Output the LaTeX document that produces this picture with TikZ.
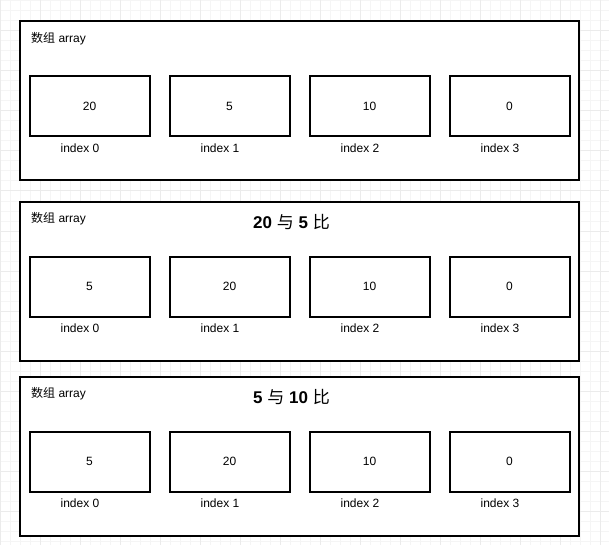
\documentclass[tikz,border=0pt]{standalone}
\usepackage{fontspec}
\setmainfont{Liberation Sans}
\newfontfamily\cjk{Noto Sans CJK SC}
\usetikzlibrary{positioning}

\begin{document}
\begin{tikzpicture}[x=1pt,y=-1pt,
          panel/.style={draw,line width=2pt,fill=white,inner sep=0pt,outer sep=0pt,minimum width=559pt,minimum height=159pt},
          cell/.style={draw,line width=2pt,fill=white,inner sep=0pt,outer sep=0pt,minimum width=120pt,minimum height=60pt,font=\fontsize{12}{14}\selectfont},
          idx/.style={font=\fontsize{12}{14}\selectfont},
          head/.style={anchor=west,inner sep=0pt,font=\fontsize{12}{14}\selectfont},
          cmp/.style={inner sep=0pt,font=\fontsize{17}{20}\selectfont\bfseries},
          gridminor/.style={draw=black!4,line width=1pt},
          gridmajor/.style={draw=black!8,line width=1pt}
        ]
        \useasboundingbox (0,0) rectangle (609,545);
        \fill[white] (0,0) rectangle (609,545);
        % background grid
        \foreach\x in {0,10,...,600}{\draw[gridminor] (\x,0) -- (\x,545);}
        \foreach\y in {1,11,...,541}{\draw[gridminor] (0,\y) -- (609,\y);}
        \foreach\x in {0,40,...,600}{\draw[gridmajor] (\x,0) -- (\x,545);}
        \foreach\y in {31,71,...,511}{\draw[gridmajor] (0,\y) -- (609,\y);}
        % three states of the array
        \foreach\p/\y/\vals in {1/101/{20,5,10,0},2/281/{5,20,10,0},3/456/{5,20,10,0}}{
          \node[panel] (p\p) at (299,\y) {};
          \node[head] (h\p) at ([shift={(11.5,17.5)}]p\p.north west) {{\cjk 数组} array};
          \foreach\v [count=\i from 0] in \vals{
            \ifnum\i=0
              \node[cell,below right=55pt and 10pt of p\p.north west] (c\p-\i) {\v};
            \else
              \pgfmathtruncatemacro\k{\i-1}
              \node[cell,right=20pt of c\p-\k] (c\p-\i) {\v};
            \fi
            \node[idx] (i\p-\i) at ([shift={(-9.5,12)}]c\p-\i.south) {index \i};
          }
        }
        \node[cmp] (t2) at ([shift={(-7.5,20.5)}]p2.north) {20 {\cjk\mdseries 与} 5 {\cjk\mdseries 比}};
        \node[cmp] (t3) at ([shift={(-7.5,20.5)}]p3.north) {5 {\cjk\mdseries 与} 10 {\cjk\mdseries 比}};
      \end{tikzpicture}
\end{document}
